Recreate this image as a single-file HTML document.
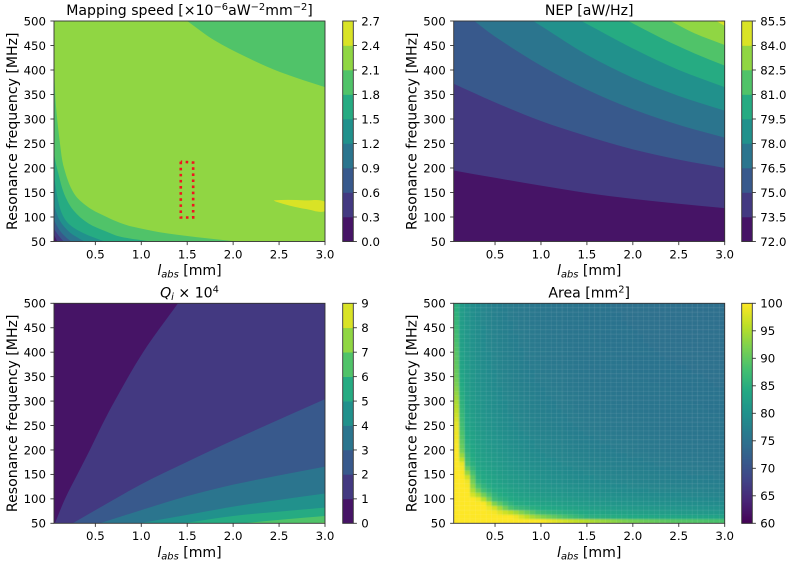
<!DOCTYPE html>
<html lang="en">
<head>
<meta charset="utf-8">
<title>Resonator design contour charts</title>
<style>
html,body{margin:0;padding:0;background:#fff;width:789px;height:561px;overflow:hidden}
svg{display:block}
text{font-family:"DejaVu Sans","Liberation Sans",sans-serif;fill:#000}
.tick-label{font-size:11.75px}
.axis-title{font-size:14.1px}
</style>
</head>
<body>
<svg id="figure" xmlns="http://www.w3.org/2000/svg" width="789" height="561" viewBox="0 0 789 561">
  <defs>
    <filter id="heat-blur" filterUnits="userSpaceOnUse" x="440" y="290" width="300" height="250"><feGaussianBlur stdDeviation="0.8"/></filter>
  </defs>
  <rect width="789" height="561" fill="#fff"/>
  <g id="plots"></g>

  <text class="axis-title" x="189.5" y="15" text-anchor="middle">Mapping speed [×10<tspan font-size="9.9" dy="-5">−6</tspan><tspan dy="5">aW</tspan><tspan font-size="9.9" dy="-5">−2</tspan><tspan dy="5">mm</tspan><tspan font-size="9.9" dy="-5">−2</tspan><tspan dy="5">]</tspan></text>
  <text class="axis-title" x="589.2" y="15" text-anchor="middle">NEP [aW/Hz]</text>
  <text class="axis-title" x="189.5" y="297.3" text-anchor="middle"><tspan font-style="italic">Q</tspan><tspan font-style="italic" font-size="9.9" dy="2.5">i</tspan><tspan dy="-2.5"> × 10</tspan><tspan font-size="9.9" dy="-5">4</tspan></text>
  <text class="axis-title" x="589.2" y="297.3" text-anchor="middle">Area [mm<tspan font-size="9.9" dy="-5">2</tspan><tspan dy="5">]</tspan></text>

  <text class="axis-title" x="189.5" y="275" text-anchor="middle"><tspan font-style="italic">l</tspan><tspan font-style="italic" font-size="9.9" dy="2.5">abs</tspan><tspan dy="-2.5"> [mm]</tspan></text>
  <text class="axis-title" x="589.2" y="275" text-anchor="middle"><tspan font-style="italic">l</tspan><tspan font-style="italic" font-size="9.9" dy="2.5">abs</tspan><tspan dy="-2.5"> [mm]</tspan></text>
  <text class="axis-title" x="189.5" y="557" text-anchor="middle"><tspan font-style="italic">l</tspan><tspan font-style="italic" font-size="9.9" dy="2.5">abs</tspan><tspan dy="-2.5"> [mm]</tspan></text>
  <text class="axis-title" x="589.2" y="557" text-anchor="middle"><tspan font-style="italic">l</tspan><tspan font-style="italic" font-size="9.9" dy="2.5">abs</tspan><tspan dy="-2.5"> [mm]</tspan></text>

  <text class="axis-title" transform="translate(17,131.2) rotate(-90)" text-anchor="middle">Resonance frequency [MHz]</text>
  <text class="axis-title" transform="translate(416.7,131.2) rotate(-90)" text-anchor="middle">Resonance frequency [MHz]</text>
  <text class="axis-title" transform="translate(17,413.3) rotate(-90)" text-anchor="middle">Resonance frequency [MHz]</text>
  <text class="axis-title" transform="translate(416.7,413.3) rotate(-90)" text-anchor="middle">Resonance frequency [MHz]</text>
</svg>

<script>
// ---------- shared axis data ----------
const xTicks = [0.5, 1.0, 1.5, 2.0, 2.5, 3.0];
const xTickLabels = ["0.5", "1.0", "1.5", "2.0", "2.5", "3.0"];
const yTicks = [50, 100, 150, 200, 250, 300, 350, 400, 450, 500];
const yTickLabels = ["50", "100", "150", "200", "250", "300", "350", "400", "450", "500"];

// ---------- colorbar data ----------
const mapCbarTicks = [0, 0.3, 0.6, 0.9, 1.2, 1.5, 1.8, 2.1, 2.4, 2.7];
const mapCbarLabels = ["0.0", "0.3", "0.6", "0.9", "1.2", "1.5", "1.8", "2.1", "2.4", "2.7"];
const nepCbarTicks = [72, 73.5, 75, 76.5, 78, 79.5, 81, 82.5, 84, 85.5];
const nepCbarLabels = ["72.0", "73.5", "75.0", "76.5", "78.0", "79.5", "81.0", "82.5", "84.0", "85.5"];
const qiCbarTicks = [0, 1, 2, 3, 4, 5, 6, 7, 8, 9];
const qiCbarLabels = ["0", "1", "2", "3", "4", "5", "6", "7", "8", "9"];
const areaCbarTicks = [60, 65, 70, 75, 80, 85, 90, 95, 100];
const areaCbarLabels = ["60", "65", "70", "75", "80", "85", "90", "95", "100"];

// ---------- mapping speed contour boundaries (l_abs mm, freq MHz) ----------
const mapTopL = [1.5, 1.784, 2.148, 2.51, 3.0];
const mapTopF = [500, 462, 426, 396, 365];
const mapSliverL = [2.44, 2.6, 2.78, 3.0, 3.0, 2.8, 2.62, 2.47, 2.44];
const mapSliverF = [134, 135, 134, 131, 112, 116, 123, 131, 134];
const map21L = [0.05, 0.057, 0.072, 0.115, 0.159, 0.268, 0.424, 0.624, 0.77, 0.91, 1.2, 1.6, 2.05];
const map21F = [420, 375, 325, 250, 200, 148, 120, 100, 88, 80, 69, 59, 50];
const map18L = [0.05, 0.057, 0.097, 0.159, 0.26, 0.424, 0.624, 0.769, 1.1];
const map18F = [250, 223, 189, 148, 114, 87, 70, 60, 50];
const map15L = [0.05, 0.057, 0.115, 0.2, 0.37, 0.6];
const map15F = [190, 176, 118, 88, 67, 50];
const map12L = [0.05, 0.06, 0.115, 0.22, 0.38];
const map12F = [130, 118, 92, 69, 50];
const map09L = [0.05, 0.06, 0.115, 0.19, 0.24];
const map09F = [98, 90, 72, 57, 50];
const map06L = [0.05, 0.06, 0.1, 0.155];
const map06F = [78, 73, 62, 50];
const map03L = [0.05, 0.06, 0.085];
const map03F = [64, 60, 50];
// red dotted selection outline
const selectionL = [1.43, 1.43, 1.565, 1.565, 1.43];
const selectionF = [213, 99, 99, 211, 213];

// ---------- NEP contour boundaries ----------
const nep735L = [0.05, 0.5, 1.0, 1.5, 2.0, 2.5, 3.0];
const nep735F = [195, 180, 164, 149, 137, 127, 118];
const nep750L = [0.05, 0.5, 1.0, 1.5, 2.0, 2.5, 3.0];
const nep750F = [372, 334, 296, 265, 238, 217, 200];
const nep765L = [0.275, 0.5, 1.0, 1.5, 2.0, 2.5, 3.0];
const nep765F = [500, 468, 409, 360, 320, 288, 262];
const nep780L = [0.917, 1.0, 1.5, 2.0, 2.5, 3.0];
const nep780F = [500, 490, 431, 384, 347, 317];
const nep795L = [1.44, 2.0, 2.5, 3.0];
const nep795F = [500, 444, 400, 365];
const nep810L = [1.95, 2.31, 2.67, 3.0];
const nep810F = [500, 465, 434, 409];
const nep825L = [2.41, 2.67, 3.0];
const nep825F = [500, 475, 451];
const nep840L = [2.91, 3.0];
const nep840F = [500, 490];

// ---------- Qi contour boundaries ----------
const qi1L = [0.06, 0.17, 0.31, 0.44, 0.57, 0.71, 1.02, 1.4];
const qi1F = [50, 100, 152, 200, 250, 300, 400, 500];
const qi2L = [0.253, 1.0, 1.49, 2.0, 3.0];
const qi2F = [50, 130, 175, 220, 304];
const qi3L = [0.55, 1.0, 1.49, 2.0, 2.5, 3.0];
const qi3F = [50, 77, 105, 129, 148, 166];
const qi4L = [0.98, 1.49, 2.0, 2.5, 3.0];
const qi4F = [50, 67, 84, 98, 111];
const qi5L = [1.45, 2.0, 2.5, 3.0];
const qi5F = [50, 65, 74, 82];
const qi6L = [2.1, 2.5, 3.0];
const qi6F = [50, 57, 65];
const qi7L = [2.9, 3.0];
const qi7F = [50, 52];

// ---------- Area heatmap samples ----------
const areaL = [0.05, 0.1, 0.15, 0.2, 0.3, 0.4, 0.5, 0.7, 1.0, 1.5, 2.0, 2.5, 3.0];
const areaF = [50, 55, 60, 65, 70, 80, 90, 100, 120, 140, 170, 200, 250, 300, 350, 400, 500];
const areaValues = [
  [100,100,100,100,100,100,100,100,100,100,97,93,91],
  [100,100,100,100,100,100,100,100,100,95,91,89,88],
  [100,100,100,100,100,100,100,100,97,86.5,85,84.5,84.5],
  [100,100,100,100,100,100,100,100,91,85,83.8,83,82.3],
  [100,100,100,100,100,100,100,98,88,84.3,83,82,81.3],
  [100,100,100,100,100,100,98,88,84.5,82.5,81.5,80.7,80],
  [100,100,100,100,100,100,92,85,83.3,81.6,80.5,79.8,79],
  [100,100,100,100,100,94,86.5,83.8,82.3,80.8,79.8,79,78.3],
  [100,100,100,100,91,85.5,84,82.4,81,79.7,78.6,77.9,77.3],
  [100,100,100,99,85.7,83.8,82.9,81.6,80.2,78.8,77.8,77.1,76.7],
  [100,100,99,87.5,83.8,82.6,81.8,80.5,79.2,77.8,77,76.4,75.9],
  [100,100,89,85,82.9,81.8,81,79.8,78.4,77.2,76.4,75.9,75.6],
  [100,98,85,83.4,81.8,80.7,80,78.7,77.5,76.4,75.9,75.5,75.3],
  [100,92,83.7,82.5,81,80,79.2,78,77,76,75.5,75.3,75.2],
  [100,86,83,81.9,80.3,79.4,78.5,77.4,76.5,75.7,75.3,75.2,75],
  [99,84,82.3,81.3,79.8,78.7,78,77,76.2,75.4,75.2,75,74.9],
  [88,83,81.4,80.3,78.9,77.9,77.1,76.3,75.7,75.2,75,74.8,74.7]
];

// ---------- helpers ----------
const NS = "http://www.w3.org/2000/svg";
const root = document.getElementById("plots");
const L_MIN = 0.05, L_MAX = 3, F_MIN = 50, F_MAX = 500;
const viridisStops = ["#440154","#482475","#414487","#355f8d","#2a788e","#21918c","#22a884","#44bf70","#7ad151","#bddf26","#fde725"];

function hexRgb(h){return [parseInt(h.slice(1,3),16),parseInt(h.slice(3,5),16),parseInt(h.slice(5,7),16)];}
function viridis(t){
  t = Math.max(0, Math.min(1, t));
  const p = t * (viridisStops.length - 1);
  const i = Math.min(viridisStops.length - 2, Math.floor(p));
  const a = hexRgb(viridisStops[i]), b = hexRgb(viridisStops[i + 1]), k = p - i;
  return "rgb(" + a.map((v, n) => Math.round(v + (b[n] - v) * k)).join(",") + ")";
}
function make(tag, attrs, parent){
  const n = document.createElementNS(NS, tag);
  for (const k in attrs) n.setAttribute(k, attrs[k]);
  parent.appendChild(n);
  return n;
}
function makeAxes(left, top, right, bottom){
  return {
    left, top, right, bottom,
    x: l => left + (l - L_MIN) / (L_MAX - L_MIN) * (right - left),
    y: f => bottom - (f - F_MIN) / (F_MAX - F_MIN) * (bottom - top)
  };
}
function ctrl(from, a, b, len){
  const dx = b[0] - a[0], dy = b[1] - a[1], m = Math.hypot(dx, dy) || 1;
  return [from[0] + dx / m * len, from[1] + dy / m * len];
}
function smoothPath(pts){
  let d = "M" + pts[0][0].toFixed(2) + " " + pts[0][1].toFixed(2);
  for (let i = 0; i < pts.length - 1; i++){
    const p0 = pts[Math.max(0, i - 1)], p1 = pts[i], p2 = pts[i + 1], p3 = pts[Math.min(pts.length - 1, i + 2)];
    const len = Math.hypot(p2[0] - p1[0], p2[1] - p1[1]) / 3;
    const c1 = ctrl(p1, p0, p2, len);
    const c2 = ctrl(p2, p3, p1, len);
    d += "C" + [c1[0], c1[1], c2[0], c2[1], p2[0], p2[1]].map(v => v.toFixed(2)).join(" ");
  }
  return d;
}
function region(group, ax, ls, fs, corners, color){
  const pts = ls.map((l, i) => [ax.x(l), ax.y(fs[i])]);
  let d = smoothPath(pts);
  corners.forEach(c => { d += "L" + ax.x(c[0]).toFixed(2) + " " + ax.y(c[1]).toFixed(2); });
  d += "Z";
  const band = make("path", {d: d, fill: color}, group);
  
  
}
function plotGroup(ax, id, name){
  const g = make("g", {}, root);
  
  
  const clip = make("clipPath", {id: id}, g);
  make("rect", {x: ax.left, y: ax.top, width: ax.right - ax.left, height: ax.bottom - ax.top}, clip);
  const body = make("g", {"clip-path": "url(#" + id + ")"}, g);
  
  
  return {g, body};
}
function base(body, ax, color){
  const bg = make("rect", {x: ax.left, y: ax.top, width: ax.right - ax.left, height: ax.bottom - ax.top, fill: color}, body);
  
  
}
function drawAxes(g, ax){
  xTicks.forEach((v, i) => {
    const px = ax.x(v);
    const t = make("line", {x1: px, x2: px, y1: ax.bottom, y2: ax.bottom + 3.6, stroke: "#333", "stroke-width": 0.9}, g);
    
    
    const lab = make("text", {x: px, y: ax.bottom + 16.8, "text-anchor": "middle", class: "tick-label"}, g);
    
    
    lab.textContent = xTickLabels[i];
  });
  yTicks.forEach((v, i) => {
    const py = ax.y(v);
    const t = make("line", {x1: ax.left - 3.6, x2: ax.left, y1: py, y2: py, stroke: "#333", "stroke-width": 0.9}, g);
    
    
    const lab = make("text", {x: ax.left - 8, y: py + 4.3, "text-anchor": "end", class: "tick-label"}, g);
    
    
    lab.textContent = yTickLabels[i];
  });
  const frame = make("rect", {x: ax.left, y: ax.top, width: ax.right - ax.left, height: ax.bottom - ax.top, fill: "none", stroke: "#333", "stroke-width": 0.9}, g);
  
  
}
function drawColorbar(g, ax, cx, ticks, labels, bands){
  const w = 10.6, lo = ticks[0], hi = ticks[ticks.length - 1], h = ax.bottom - ax.top;
  const cy = v => ax.bottom - (v - lo) / (hi - lo) * h;
  const cb = make("g", {}, g);
  
  
  if (bands){
    for (let i = 0; i < ticks.length - 1; i++){
      const s = make("rect", {x: cx, y: cy(ticks[i + 1]), width: w, height: cy(ticks[i]) - cy(ticks[i + 1]) + 0.3, fill: viridis((i + 0.5) / (ticks.length - 1))}, cb);
      
      
    }
  } else {
    const steps = 110;
    for (let i = 0; i < steps; i++){
      const a = lo + (hi - lo) * i / steps, b = lo + (hi - lo) * (i + 1) / steps;
      const s = make("rect", {x: cx, y: cy(b), width: w, height: cy(a) - cy(b) + 0.4, fill: viridis((i + 0.5) / steps)}, cb);
      
      
    }
  }
  const out = make("rect", {x: cx, y: ax.top, width: w, height: h, fill: "none", stroke: "#333", "stroke-width": 0.9}, cb);
  
  
  ticks.forEach((v, i) => {
    const py = cy(v);
    const t = make("line", {x1: cx + w, x2: cx + w + 3.6, y1: py, y2: py, stroke: "#333", "stroke-width": 0.9}, cb);
    
    
    const lab = make("text", {x: cx + w + 8, y: py + 4.3, class: "tick-label"}, cb);
    
    
    lab.textContent = labels[i];
  });
}
const band9 = i => viridis((i + 0.5) / 9);

// ---------- mapping speed ----------
(function(){
  const ax = makeAxes(54, 21, 325, 241.5);
  const p = plotGroup(ax, "clip-map", "mapping-speed-panel");
  base(p.body, ax, band9(7));
  region(p.body, ax, mapTopL, mapTopF, [[3, 500]], band9(6));
  region(p.body, ax, mapSliverL, mapSliverF, [], band9(8));
  region(p.body, ax, map21L, map21F, [[0.05, 50]], band9(6));
  region(p.body, ax, map18L, map18F, [[0.05, 50]], band9(5));
  region(p.body, ax, map15L, map15F, [[0.05, 50]], band9(4));
  region(p.body, ax, map12L, map12F, [[0.05, 50]], band9(3));
  region(p.body, ax, map09L, map09F, [[0.05, 50]], band9(2));
  region(p.body, ax, map06L, map06F, [[0.05, 50]], band9(1));
  region(p.body, ax, map03L, map03F, [[0.05, 50]], band9(0));
  const sel = make("polyline", {
    points: selectionL.map((l, i) => ax.x(l).toFixed(2) + "," + ax.y(selectionF[i]).toFixed(2)).join(" "),
    fill: "none", stroke: "#f0141e", "stroke-width": 2.6, "stroke-dasharray": "2.6 3.5"
  }, p.g);
  
  
  drawAxes(p.g, ax);
  drawColorbar(p.g, ax, 342.7, mapCbarTicks, mapCbarLabels, true);
})();

// ---------- NEP ----------
(function(){
  const ax = makeAxes(453.7, 21, 724.7, 241.5);
  const p = plotGroup(ax, "clip-nep", "nep-panel");
  base(p.body, ax, band9(0));
  region(p.body, ax, nep735L, nep735F, [[3, 500], [0.05, 500]], band9(1));
  region(p.body, ax, nep750L, nep750F, [[3, 500], [0.05, 500]], band9(2));
  region(p.body, ax, nep765L, nep765F, [[3, 500]], band9(3));
  region(p.body, ax, nep780L, nep780F, [[3, 500]], band9(4));
  region(p.body, ax, nep795L, nep795F, [[3, 500]], band9(5));
  region(p.body, ax, nep810L, nep810F, [[3, 500]], band9(6));
  region(p.body, ax, nep825L, nep825F, [[3, 500]], band9(7));
  region(p.body, ax, nep840L, nep840F, [[3, 500]], band9(8));
  drawAxes(p.g, ax);
  drawColorbar(p.g, ax, 741.7, nepCbarTicks, nepCbarLabels, true);
})();

// ---------- Qi ----------
(function(){
  const ax = makeAxes(54, 303.3, 325, 523.3);
  const p = plotGroup(ax, "clip-qi", "qi-panel");
  base(p.body, ax, band9(0));
  region(p.body, ax, qi1L, qi1F, [[3, 500], [3, 50]], band9(1));
  region(p.body, ax, qi2L, qi2F, [[3, 50]], band9(2));
  region(p.body, ax, qi3L, qi3F, [[3, 50]], band9(3));
  region(p.body, ax, qi4L, qi4F, [[3, 50]], band9(4));
  region(p.body, ax, qi5L, qi5F, [[3, 50]], band9(5));
  region(p.body, ax, qi6L, qi6F, [[3, 50]], band9(6));
  region(p.body, ax, qi7L, qi7F, [[3, 50]], band9(7));
  drawAxes(p.g, ax);
  drawColorbar(p.g, ax, 342.7, qiCbarTicks, qiCbarLabels, true);
})();

// ---------- Area ----------
function bracket(list, v, warp){
  let i = 0;
  while (i < list.length - 2 && v > list[i + 1]) i++;
  const a = warp(list[i]), b = warp(list[i + 1]);
  const t = Math.max(0, Math.min(1, (warp(v) - a) / (b - a)));
  return [i, t];
}
function areaAt(l, f){
  const [c, tc] = bracket(areaL, l, v => Math.log(Math.max(v, 0.01)));
  const [r, tr] = bracket(areaF, f, v => Math.log(Math.max(v - 40, 1)));
  const top = areaValues[r + 1][c] * (1 - tc) + areaValues[r + 1][c + 1] * tc;
  const low = areaValues[r][c] * (1 - tc) + areaValues[r][c + 1] * tc;
  return low * (1 - tr) + top * tr;
}
(function(){
  const ax = makeAxes(453.7, 303.3, 724.7, 523.3);
  const p = plotGroup(ax, "clip-area", "area-panel");
  const cells = 50;
  const dl = (L_MAX - L_MIN) / cells, df = (F_MAX - F_MIN) / cells;
  const heat = make("g", {filter: "url(#heat-blur)"}, p.body);
  
  
  for (let r = -1; r <= cells; r++){
    for (let c = -1; c <= cells; c++){
      const l0 = L_MIN + c * dl, f0 = F_MIN + r * df;
      const v = areaAt(l0 + dl / 2, f0 + df / 2);
      const cell = make("rect", {
        x: ax.x(l0), y: ax.y(f0 + df),
        width: ax.x(l0 + dl) - ax.x(l0) + 0.25,
        height: ax.y(f0) - ax.y(f0 + df) + 0.25,
        fill: viridis((v - 60) / 40)
      }, heat);
      
      
    }
  }
  const lattice = make("g", {stroke: "#fff", "stroke-opacity": 0.08, "stroke-width": 0.8}, p.body);
  
  
  for (let i = 1; i < cells; i++){
    const vx = ax.x(L_MIN + i * dl), hy = ax.y(F_MIN + i * df);
    make("line", {x1: vx, x2: vx, y1: ax.top, y2: ax.bottom}, lattice);
    make("line", {x1: ax.left, x2: ax.right, y1: hy, y2: hy}, lattice);
  }
  drawAxes(p.g, ax);
  drawColorbar(p.g, ax, 741.7, areaCbarTicks, areaCbarLabels, false);
})();
</script>
</body>
</html>
